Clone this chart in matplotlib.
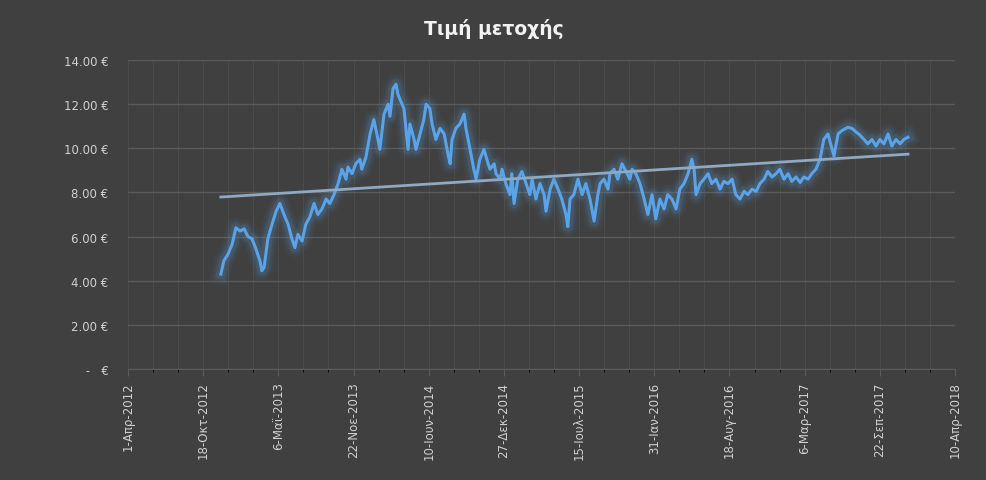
import numpy as np
import matplotlib
matplotlib.use("Agg")
import matplotlib.pyplot as plt
from matplotlib.ticker import FixedLocator, FuncFormatter, MultipleLocator

# days after 1-Apr-2012 and share price (EUR)
days = [247, 255, 266, 277, 287, 298, 309, 319, 330, 340, 351, 356, 362, 372, 383, 394, 404, 415,
        426, 436, 444, 452, 463, 473, 484, 495, 505, 516, 527, 537, 548, 559, 569, 580, 585, 596,
        606, 617, 622, 633, 644, 654, 665, 670, 681, 692, 697, 705, 713, 718, 724, 734, 745, 750,
        761, 766, 777, 787, 793, 803, 809, 819, 830, 841, 851, 857, 862, 872, 883, 894, 899, 910,
        920, 926, 936, 947, 958, 963, 974, 979, 990, 995, 1005, 1016, 1021, 1027, 1037, 1048, 1059,
        1069, 1075, 1085, 1096, 1107, 1112, 1123, 1133, 1144, 1154, 1165, 1170, 1176, 1186, 1197,
        1208, 1218, 1229, 1240, 1250, 1256, 1266, 1277, 1282, 1293, 1303, 1314, 1325, 1335, 1341,
        1351, 1362, 1373, 1383, 1394, 1404, 1415, 1426, 1436, 1447, 1458, 1468, 1479, 1490, 1500,
        1506, 1511, 1522, 1532, 1543, 1553, 1564, 1575, 1585, 1596, 1607, 1617, 1628, 1639, 1649,
        1660, 1671, 1681, 1692, 1702, 1713, 1724, 1734, 1745, 1756, 1766, 1777, 1788, 1798, 1809,
        1819, 1830, 1841, 1851, 1862, 1873, 1878, 1889, 1899, 1915, 1926, 1936, 1947, 1958, 1968,
        1979, 1990, 2000, 2011, 2022, 2032, 2043, 2054, 2064, 2075]
price = [4.3, 4.9, 5.2, 5.65, 6.4, 6.25, 6.35, 6.0, 5.9, 5.45, 4.9, 4.45, 4.6, 5.9, 6.55, 7.15, 7.5, 7.0,
         6.55, 5.9, 5.5, 6.1, 5.8, 6.55, 6.9, 7.5, 7.0, 7.25, 7.7, 7.5, 7.9, 8.4, 9.05, 8.6, 9.15, 8.85,
         9.3, 9.5, 9.05, 9.6, 10.65, 11.3, 10.4, 9.95, 11.55, 12.0, 11.45, 12.7, 12.9, 12.45, 12.2, 11.8, 9.95, 11.1,
         10.4, 9.95, 10.65, 11.3, 12.0, 11.8, 11.1, 10.4, 10.9, 10.65, 9.75, 9.3, 10.4, 10.9, 11.1, 11.55, 10.9, 9.95,
         9.05, 8.6, 9.5, 9.95, 9.3, 9.05, 9.3, 8.85, 8.6, 9.05, 8.4, 7.9, 8.85, 7.5, 8.6, 8.95, 8.4,
         7.9, 8.6, 7.7, 8.4, 7.9, 7.15, 8.15, 8.6, 8.15, 7.7, 7.0, 6.45, 7.7, 7.9, 8.6,
         7.9, 8.4, 7.7, 6.7, 7.9, 8.4, 8.6, 8.15, 8.85, 9.05, 8.6, 9.3, 8.95, 8.6, 9.05,
         8.85, 8.4, 7.7, 7.0, 7.9, 6.8, 7.7, 7.25, 7.9, 7.7, 7.25, 8.15, 8.4, 8.85, 9.5,
         9.05, 7.9, 8.4, 8.6, 8.85, 8.4, 8.6, 8.15, 8.5, 8.4, 8.6, 7.9, 7.7, 8.05, 7.9,
         8.15, 8.05, 8.4, 8.6, 8.95, 8.7, 8.85, 9.05, 8.6, 8.85, 8.5, 8.7, 8.45, 8.7, 8.6,
         8.85, 9.05, 9.5, 10.4, 10.65, 9.95, 9.65, 10.65, 10.8, 10.95, 10.9, 10.75, 10.6, 10.4, 10.2,
         10.4, 10.1, 10.4, 10.2, 10.65, 10.1, 10.4, 10.2, 10.4, 10.5]

tick_days = [0, 200, 400, 600, 800, 1000, 1200, 1400, 1600, 1800, 2000, 2200]
tick_labels = ["1-Απρ-2012", "18-Οκτ-2012", "6-Μαϊ-2013", "22-Νοε-2013", "10-Ιουν-2014",
               "27-Δεκ-2014", "15-Ιουλ-2015", "31-Ιαν-2016", "18-Αυγ-2016", "6-Μαρ-2017",
               "22-Σεπ-2017", "10-Απρ-2018"]

bg = "#404040"
fig = plt.figure(figsize=(9.87, 4.81), dpi=100, facecolor=bg)
ax = fig.add_axes([128 / 987, 1 - 370 / 481, (955 - 128) / 987, (370 - 61) / 481], facecolor=bg)

x = np.array(days)
y = np.array(price)

# glow
for lw, a in [(14, 0.05), (10, 0.08), (7, 0.12)]:
    ax.plot(x, y, color="#5ba3e8", lw=lw, alpha=a, solid_joinstyle="round", zorder=2)
ax.plot(x, y, color="#5ba3e8", lw=2.2, zorder=3)

# linear trendline
k, b = np.polyfit(x, y, 1)
ax.plot([x[0], x[-1]], [k * x[0] + b, k * x[-1] + b], color="#8ea9c1", lw=2, zorder=4)

ax.set_xlim(0, 2200)
ax.set_ylim(0, 14)
ax.xaxis.set_major_locator(FixedLocator(tick_days))
ax.xaxis.set_minor_locator(MultipleLocator(200 / 3))
ax.set_xticklabels(tick_labels, rotation=90)
ax.yaxis.set_major_locator(MultipleLocator(2))
ax.yaxis.set_major_formatter(FuncFormatter(lambda v, p: " -   €" if v == 0 else f"{v:.2f} €"))

ax.grid(axis="y", which="major", color="#5a5a5a", lw=1)
ax.grid(axis="x", which="both", color="#4b4b4b", lw=0.8)
ax.set_axisbelow(True)
for s in ["top", "right", "left"]:
    ax.spines[s].set_visible(False)
ax.spines["bottom"].set_color("#5a5a5a")
ax.tick_params(colors="#d0d0d0", labelsize=8.5, length=0)
ax.tick_params(axis="x", which="major", length=5, color="#5a5a5a", pad=4)
ax.tick_params(axis="y", pad=14)

fig.text(0.5, 0.94, "Τιμή μετοχής", ha="center", va="center", color="#f2f2f2",
         fontsize=13.5, fontweight="bold")

fig.savefig("out.png", dpi=100, facecolor=bg)
